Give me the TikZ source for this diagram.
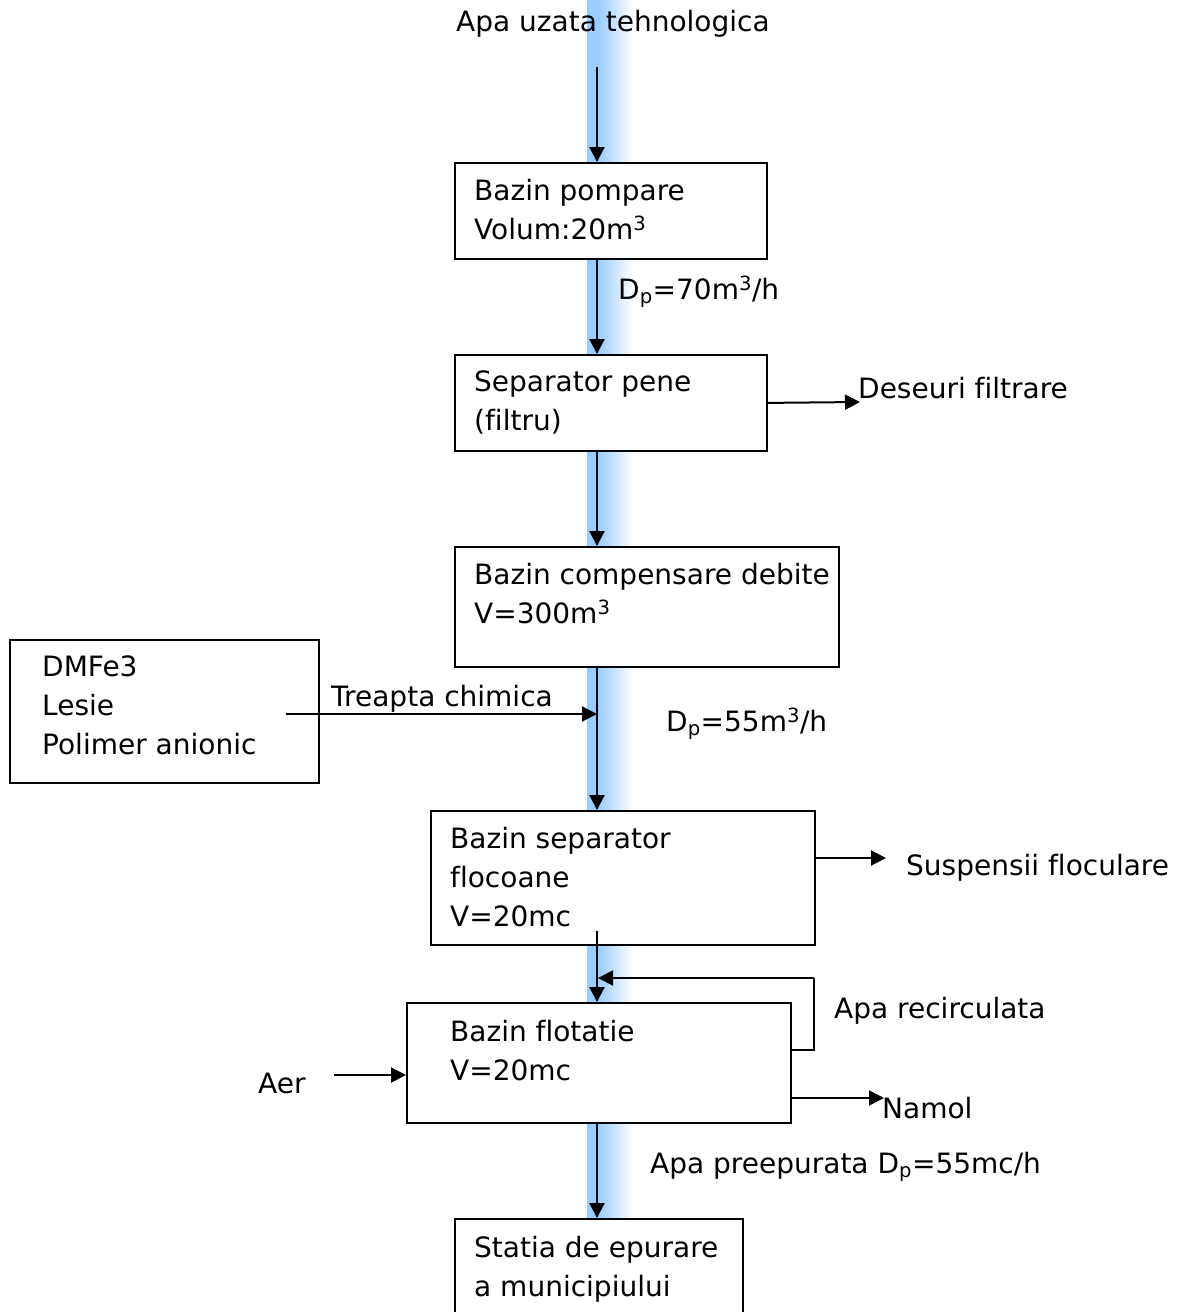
\documentclass[tikz,border=0pt]{standalone}
\usepackage{fontspec}
\setmainfont[Ligatures=NoCommon]{DejaVu Sans}
\usetikzlibrary{arrows.meta}
\definecolor{band}{RGB}{153,204,255}
\tikzset{
  box/.style={draw=black, line width=1.8pt, fill=white, anchor=north west, inner sep=0pt},
  txt/.style={font=\fontsize{28}{39}\selectfont, align=left, inner sep=0pt, anchor=north west},
  lbl/.style={font=\fontsize{28}{39}\selectfont, inner sep=0pt, anchor=west},
  arr/.style={line width=2pt, -{Triangle[length=15pt,width=15pt]}},
  ln/.style={line width=2pt}
}
\begin{document}
\begin{tikzpicture}[x=1pt,y=-1pt]
\useasboundingbox (0,0) rectangle (1187,1312);
% blue band
\fill[band] (587,0) rectangle (598,1312);
\shade[left color=band, right color=white] (598,0) rectangle (633,1312);
\coordinate (ax) at (597,0);
% boxes
\node[box, minimum width=312pt, minimum height=96pt] (b1) at (454,162) {};
\node[box, minimum width=312pt, minimum height=96pt] (b2) at (454,354) {};
\node[box, minimum width=384pt, minimum height=120pt] (b3) at (454,546) {};
\node[box, minimum width=309pt, minimum height=143pt] (chem) at (9,639) {};
\node[box, minimum width=384pt, minimum height=134pt] (b4) at (430,810) {};
\node[box, minimum width=384pt, minimum height=120pt] (b5) at (406,1002) {};
\node[box, minimum width=288pt, minimum height=115pt] (b6) at (454,1218) {};
% box texts
\node[txt] (t1) at (474,179) {Bazin pompare\\Volum:20m\textsuperscript{3}};
\node[txt] (t2) at (474,371) {Separator pene\\(filtru)};
\node[txt] (t3) at (474,563) {Bazin compensare debite\\V=300m\textsuperscript{3}};
\node[txt] (tc) at (42,656) {DMFe3\\Lesie\\Polimer anionic};
\node[txt] (t4) at (450,827) {Bazin separator\\flocoane\\V=20mc};
\node[txt] (t5) at (450,1020) {Bazin flotatie\\V=20mc};
\node[txt] (t6) at (474,1236) {Statia de epurare\\a municipiului};
% labels
\node[lbl] (title) at (456,24) {Apa uzata tehnologica};
\node[lbl] (dp1) at (618,292) {D\textsubscript{p}=70m\textsuperscript{3}/h};
\node[lbl] (des) at (858,388) {Deseuri filtrare};
\node[lbl] (dp2) at (666,724) {D\textsubscript{p}=55m\textsuperscript{3}/h};
\node[lbl] (trc) at (331,699) {Treapta chimica};
\node[lbl] (susp) at (906,868) {Suspensii floculare};
\node[lbl] (rec) at (834,1011) {Apa recirculata};
\node[lbl] (aer) at (258,1083) {Aer};
\node[lbl] (nam) at (882,1108) {Namol};
\node[lbl] (pre) at (650,1167) {Apa preepurata D\textsubscript{p}=55mc/h};
% coordinates
\coordinate (in) at (597,67);
\coordinate (chs) at (286,714);
\coordinate (che) at (597,714);
\coordinate (b4in) at (597,931);
\coordinate (desE) at (860,402);
\coordinate (suS) at (814,858);
\coordinate (suE) at (886,858);
\coordinate (rc1) at (790,1050);
\coordinate (rc2) at (814,1050);
\coordinate (rc3) at (814,978);
\coordinate (rc4) at (598,978);
\coordinate (aerS) at (334,1075);
\coordinate (aerE) at (406,1075);
\coordinate (naS) at (790,1098);
\coordinate (naE) at (884,1098);
% connectors
\draw[arr] (in) -- (ax |- b1.north);
\draw[arr] (ax |- b1.south) -- (ax |- b2.north);
\draw[arr] (ax |- b2.south) -- (ax |- b3.north);
\draw[arr] (ax |- b3.south) -- (ax |- b4.north);
\draw[arr] (b4in) -- (ax |- b5.north);
\draw[arr] (ax |- b5.south) -- (ax |- b6.north);
\draw[arr] (b2.east) -- (desE);
\draw[arr] (chs) -- (che);
\draw[arr] (suS) -- (suE);
\draw[ln] (rc1) -- (rc2) -- (rc3);
\draw[arr] (rc3) -- (rc4);
\draw[arr] (aerS) -- (aerE);
\draw[arr] (naS) -- (naE);
\end{tikzpicture}
\end{document}
